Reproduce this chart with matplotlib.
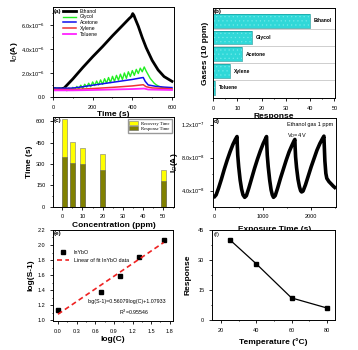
import numpy as np
import matplotlib
matplotlib.use("Agg")
import matplotlib.pyplot as plt
from matplotlib.ticker import FuncFormatter, AutoMinorLocator

plt.rcParams['font.family'] = ['Liberation Sans', 'DejaVu Sans']
plt.rcParams['font.size'] = 4.5
plt.rcParams['axes.linewidth'] = 0.7
plt.rcParams['xtick.major.width'] = 0.6
plt.rcParams['ytick.major.width'] = 0.6
plt.rcParams['xtick.major.size'] = 2
plt.rcParams['ytick.major.size'] = 2
plt.rcParams['xtick.minor.size'] = 1
plt.rcParams['ytick.minor.size'] = 1
plt.rcParams['xtick.labelsize'] = 4
plt.rcParams['ytick.labelsize'] = 4
plt.rcParams['hatch.linewidth'] = 0.4

# (a) dynamic current of the sensor to different gases (current in 1e-6 A)
t_ethanol = [0, 30, 55, 100, 150, 200, 250, 300, 350, 385, 395, 402, 408, 415,
             430, 450, 470, 500, 530, 560, 600]
i_ethanol = [0.70, 0.68, 0.72, 1.5, 2.45, 3.35, 4.2, 5.1, 5.95, 6.55, 6.7, 6.95,
             6.8, 6.5, 5.9, 4.95, 4.1, 3.05, 2.25, 1.7, 1.3]
t_glycol = list(range(0, 601, 10))
i_glycol = [0.80, 0.62, 0.78, 0.55, 0.76, 0.60, 0.74, 0.52, 0.75, 0.58,
            0.80, 0.62, 0.88, 0.65, 0.98, 0.70, 1.06, 0.82, 1.15, 0.85,
            1.25, 0.95, 1.33, 1.00, 1.42, 1.05, 1.52, 1.15, 1.62, 1.20,
            1.72, 1.30, 1.80, 1.40, 1.90, 1.45, 2.00, 1.55, 2.10, 1.70,
            2.20, 1.80, 2.30, 1.95, 2.40, 2.10, 2.50, 2.15, 1.85, 1.55,
            1.35, 1.15, 1.02, 0.92, 0.85, 0.78, 0.74, 0.70, 0.68, 0.66, 0.65]
t_acetone = [0, 50, 100, 150, 200, 250, 300, 350, 400, 440, 455, 465, 480, 520, 560, 600]
i_acetone = [0.75, 0.72, 0.74, 0.85, 0.98, 1.1, 1.22, 1.34, 1.46, 1.58, 1.62,
             1.3, 1.0, 0.88, 0.82, 0.78]
t_xylene = [0, 100, 200, 300, 400, 455, 470, 500, 600]
i_xylene = [0.62, 0.62, 0.70, 0.80, 0.92, 1.02, 0.85, 0.75, 0.68]
t_toluene = [0, 100, 200, 300, 400, 460, 480, 600]
i_toluene = [0.55, 0.55, 0.58, 0.62, 0.66, 0.70, 0.62, 0.58]

# (b) response to 10 ppm gases
gases = ['Toluene', 'Xylene', 'Acetone', 'Glycol', 'Ethanol']
gas_response = [1, 7, 12, 16, 40]

# (c) response / recovery time vs concentration
conc = [1, 5, 10, 20, 50]
recovery_time = [614, 452, 415, 368, 258]
response_time = [347, 305, 298, 258, 183]

# (d) repeated cycles, ethanol 1 ppm (current in 1e-8 A)
t_cycle = [0, 30, 80, 140, 200, 260, 320, 380, 430, 465, 470, 480, 500, 530, 560, 590, 625,
           660, 710, 770, 830, 890, 950, 1010, 1055, 1080, 1085, 1095, 1115, 1145, 1175, 1200, 1225,
           1260, 1310, 1370, 1430, 1490, 1550, 1610, 1650, 1670, 1675, 1685, 1705, 1735, 1765, 1790, 1810,
           1840, 1890, 1950, 2010, 2070, 2130, 2190, 2245, 2275, 2282, 2295, 2315, 2335, 2380, 2430, 2470, 2500]
i_cycle = [3.3, 3.5, 4.3, 5.4, 6.6, 7.7, 8.7, 9.6, 10.2, 10.55, 9.6, 8.3, 6.9, 5.3, 4.2, 3.5, 3.2,
           3.4, 4.3, 5.5, 6.7, 7.8, 8.8, 9.7, 10.25, 10.55, 9.6, 8.3, 6.9, 5.3, 4.1, 3.5, 3.2,
           3.4, 4.3, 5.5, 6.6, 7.7, 8.7, 9.5, 10.0, 10.2, 9.3, 8.1, 6.8, 5.4, 4.5, 4.0, 3.85,
           3.95, 4.7, 5.8, 6.9, 7.9, 8.9, 9.7, 10.3, 10.6, 9.5, 7.6, 6.1, 5.5, 5.1, 4.8, 4.55, 4.4]

# (e) log-log fit
log_c = [0.0, 0.699, 1.0, 1.301, 1.699]
log_s = [1.142, 1.378, 1.587, 1.836, 2.067]
fit_slope = 0.56079
fit_icept = 1.07933

# (f) response vs temperature
temps = [25, 40, 60, 80]
temp_response = [40, 28, 11, 6]

label_font = dict(fontsize=6, fontweight='bold')

fig = plt.figure(figsize=(3.58, 3.5), dpi=100)

# ---- (a)
ax = fig.add_axes([0.148, 0.723, 0.338, 0.257])
ax.plot(t_ethanol, np.array(i_ethanol) * 1e-6, color='black', lw=2.0, label='Ethanol')
ax.plot(t_glycol, np.array(i_glycol) * 1e-6, color='#22ee22', lw=1.0, label='Glycol')
ax.plot(t_acetone, np.array(i_acetone) * 1e-6, color='#1010ee', lw=1.1, label='Acetone')
ax.plot(t_xylene, np.array(i_xylene) * 1e-6, color='#ee3333', lw=1.1, label='Xylene')
ax.plot(t_toluene, np.array(i_toluene) * 1e-6, color='#ff22ff', lw=1.3, label='Toluene')
ax.set_xlim(0, 610)
ax.set_ylim(0, 7.5e-6)
ax.set_xticks([0, 200, 400, 600])
ax.set_yticks([0, 2e-6, 4e-6, 6e-6])
ax.yaxis.set_major_formatter(FuncFormatter(
    lambda v, p: '0.0' if v == 0 else f'{v / 1e-6:.1f}x10$^{{-6}}$'))
ax.xaxis.set_minor_locator(AutoMinorLocator(2))
ax.yaxis.set_minor_locator(AutoMinorLocator(2))
ax.set_xlabel('Time (s)', labelpad=1, **label_font)
ax.set_ylabel('I$_D$(A)', labelpad=1, **label_font)
ax.legend(loc='upper left', bbox_to_anchor=(0.05, 1.02), frameon=False, fontsize=3.6,
          handlelength=2.6, labelspacing=0.15, borderpad=0.2)
ax.text(0.01, 0.98, '(a)', transform=ax.transAxes, fontsize=4.5, fontweight='bold', va='top')

# ---- (b)
ax = fig.add_axes([0.595, 0.72, 0.341, 0.257])
ypos = np.arange(len(gases))
ax.barh(ypos, gas_response, height=0.82, color='#30d8d8', edgecolor='#6fe9e9',
        linewidth=0, hatch='....')
ax.barh(ypos, gas_response, height=0.82, fill=False, edgecolor='#1b9f9f', linewidth=0.5)
for y, (g, v) in enumerate(zip(gases, gas_response)):
    ax.text(v + 1.5, y, g, fontsize=3.6, fontweight='bold', va='center', ha='left')
for y in [0.5, 1.5, 2.5, 3.5]:
    ax.axhline(y, color='#bbbbbb', lw=0.5)
ax.set_xlim(0, 50.3)
ax.set_ylim(-0.6, 4.75)
ax.set_yticks([])
ax.set_xticks(range(0, 51, 10))
ax.xaxis.set_minor_locator(AutoMinorLocator(2))
ax.set_xlabel('Response', labelpad=2, **label_font)
ax.set_ylabel('Gases (10 ppm)', labelpad=3, **label_font)
ax.text(0.01, 0.99, '(b)', transform=ax.transAxes, fontsize=4.5, fontweight='bold', va='top')

# ---- (c)
ax = fig.add_axes([0.148, 0.409, 0.338, 0.257])
ax.bar(conc, recovery_time, width=2.4, color='#ffff00', edgecolor='#777777',
       linewidth=0.4, label='Recovery Time')
ax.bar(conc, response_time, width=2.4, color='#808000', edgecolor='#666666',
       linewidth=0.4, label='Response Time')
ax.set_xlim(-4.6, 55.3)
ax.set_ylim(0, 630)
ax.set_xticks(range(0, 51, 10))
ax.set_yticks([0, 150, 300, 450, 600])
ax.xaxis.set_minor_locator(AutoMinorLocator(2))
ax.yaxis.set_minor_locator(AutoMinorLocator(2))
ax.set_xlabel('Concentration (ppm)', labelpad=2, **label_font)
ax.set_ylabel('Time (s)', labelpad=2, **label_font)
ax.legend(loc='upper right', prop={'family': 'Liberation Serif', 'size': 3.3},
          handlelength=1.8, handleheight=1.0, labelspacing=0.1, borderpad=0.4,
          fancybox=False, edgecolor='#999999', framealpha=1)
ax.text(0.01, 0.99, '(c)', transform=ax.transAxes, fontsize=4.5, fontweight='bold', va='top')

# ---- (d)
ax = fig.add_axes([0.595, 0.409, 0.344, 0.254])
ax.plot(t_cycle, np.array(i_cycle) * 1e-8, color='black', lw=2.6)
ax.set_xlim(-35, 2530)
ax.set_ylim(2.05e-8, 12.8e-8)
ax.set_xticks([0, 1000, 2000])
ax.set_yticks([4e-8, 8e-8, 12e-8])


def fmt_d(v, p):
    if v >= 1e-7:
        return f'{v / 1e-7:.1f}x10$^{{-7}}$'
    return f'{v / 1e-8:.1f}x10$^{{-8}}$'


ax.yaxis.set_major_formatter(FuncFormatter(fmt_d))
ax.xaxis.set_minor_locator(AutoMinorLocator(2))
ax.yaxis.set_minor_locator(AutoMinorLocator(2))
ax.set_xlabel('Exposure Time (s)', labelpad=5, **label_font)
ax.set_ylabel('I$_D$(A)', labelpad=1, **label_font)
ax.text(0.6, 0.95, 'Ethanol gas 1 ppm\nV$_D$=4 V', transform=ax.transAxes,
        fontsize=4, va='top', linespacing=1.6)
ax.text(0.01, 0.99, 'd)', transform=ax.transAxes, fontsize=4.5, fontweight='bold', va='top')

# ---- (e)
ax = fig.add_axes([0.148, 0.083, 0.335, 0.26])
ax.plot(log_c, log_s, 's', color='black', ms=3, label='InYbO')
xf = np.array([0.0, 1.7])
ax.plot(xf, fit_slope * xf + fit_icept, '--', color='#ee2222', lw=1.2,
        dashes=(3, 2), label='Linear of fit InYbO data')
ax.set_xlim(-0.08, 1.85)
ax.set_ylim(0.99, 2.2)
ax.set_xticks(np.arange(0, 1.81, 0.3))
ax.set_yticks(np.arange(1.0, 2.21, 0.2))
ax.xaxis.set_major_formatter(FuncFormatter(lambda v, p: f'{v:.1f}'))
ax.yaxis.set_major_formatter(FuncFormatter(lambda v, p: f'{v:.1f}'))
ax.xaxis.set_minor_locator(AutoMinorLocator(2))
ax.yaxis.set_minor_locator(AutoMinorLocator(2))
ax.set_xlabel('log(C)', labelpad=2, **label_font)
ax.set_ylabel('log(S-1)', labelpad=2, **label_font)
ax.legend(loc='upper left', bbox_to_anchor=(0.0, 0.82), frameon=False, fontsize=3.8,
          handlelength=2.4, labelspacing=0.5, borderpad=0.2)
ax.text(0.475, 1.253, f'log(S-1)={fit_slope}log(C)+{fit_icept}', fontsize=3.8, va='center')
ax.text(0.99, 1.10, 'R$^2$=0.95546', fontsize=3.8, va='center')
ax.text(0.01, 0.99, '(e)', transform=ax.transAxes, fontsize=4.5, fontweight='bold', va='top')

# ---- (f)
ax = fig.add_axes([0.592, 0.086, 0.344, 0.257])
ax.plot(temps, temp_response, '-s', color='black', ms=3.2, lw=0.9)
ax.set_xlim(14.7, 84.8)
ax.set_ylim(0, 45)
ax.set_xticks([20, 40, 60, 80])
ax.set_yticks([0, 15, 30, 45])
ax.xaxis.set_minor_locator(AutoMinorLocator(2))
ax.yaxis.set_minor_locator(AutoMinorLocator(2))
ax.set_xlabel('Temperature (\u00b0C)', labelpad=4, **label_font)
ax.set_ylabel('Response', labelpad=5, **label_font)
ax.text(0.01, 0.98, '(f)', transform=ax.transAxes, fontsize=4.5, va='top')

fig.savefig('out.png', dpi=100)
